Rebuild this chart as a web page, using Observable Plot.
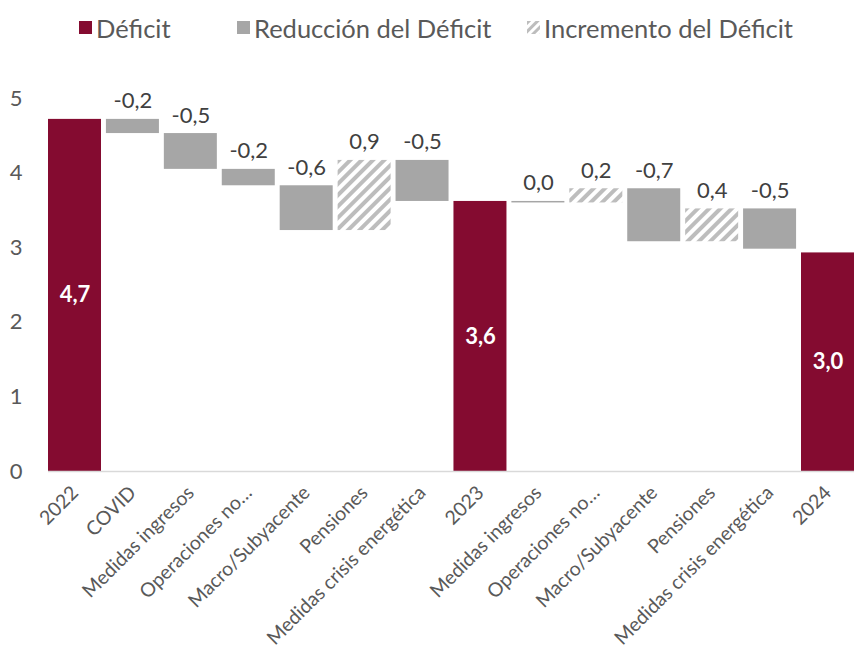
<!DOCTYPE html>
<html><head><meta charset="utf-8">
<script src="https://cdn.jsdelivr.net/npm/d3@7"></script>
<script src="https://cdn.jsdelivr.net/npm/@observablehq/plot@0.6"></script>
<style>
body{margin:0;background:#fff;font-family:Lato,"Open Sans",sans-serif;}
#legend{height:55px;display:flex;align-items:center;padding-left:79px;color:#595959;font-size:25.5px;white-space:nowrap;width:854px;box-sizing:border-box;overflow:hidden;}
.item{display:flex;align-items:center;flex-shrink:0;}
.sw{width:13px;height:13px;margin-right:4px;display:inline-block;flex-shrink:0;}
</style></head><body>
<div id="legend">
 <div class="item" style="width:158px"><span class="sw" style="background:#840B30"></span>Déficit</div>
 <div class="item" style="width:290px"><span class="sw" style="background:#A6A6A6"></span>Reducción del Déficit</div>
 <div class="item"><svg class="sw" width="13" height="13" viewBox="0 0 13 13"><defs><pattern id="hatchL" patternUnits="userSpaceOnUse" width="6" height="6" patternTransform="rotate(45)"><rect width="6" height="6" fill="#fff"/><rect width="3" height="6" fill="#BDBDBD"/></pattern></defs><rect width="13" height="13" fill="url(#hatchL)"/></svg>Incremento del Déficit</div>
</div>
<div id="chart"></div>
<script>
const categories = ["2022","COVID","Medidas ingresos","Operaciones no…","Macro/Subyacente","Pensiones","Medidas crisis energética","2023","Medidas ingresos","Operaciones no…","Macro/Subyacente","Pensiones","Medidas crisis energética","2024"];
const kinds = ["total","change","change","change","change","change","change","total","change","change","change","change","change","total"];
const values = [4.72,-0.19,-0.48,-0.22,-0.60,0.94,-0.55,3.62,-0.02,0.19,-0.71,0.44,-0.54,2.93];
const labels = ["4,7","-0,2","-0,5","-0,2","-0,6","0,9","-0,5","3,6","0,0","0,2","-0,7","0,4","-0,5","3,0"];
const yTicks = [0,1,2,3,4,5];

let cum = 0;
const rows = categories.map((c,i) => {
  const v = values[i];
  let y1, y2, type;
  if (kinds[i] === "total") { y1 = 0; y2 = v; cum = v; type = "Déficit"; }
  else { y1 = cum; y2 = cum + v; cum = y2; type = v < 0 ? "Reducción" : "Incremento"; }
  return {i, cat: c, y1, y2, type, label: labels[i]};
});

const svg = Plot.plot({
  width: 854, height: 596,
  marginTop: 43, marginBottom: 180, marginLeft: 48, marginRight: 0,
  style: {fontFamily: 'Lato, "Open Sans", sans-serif', fontSize: "20px", color: "#595959", background: "#fff"},
  x: {type: "band", domain: d3.range(categories.length), paddingInner: 0.085, paddingOuter: 0, round: false},
  y: {domain: [0, 5]},
  marks: [
    Plot.axisY({ticks: yTicks, tickFormat: "d", tickSize: 0, tickPadding: 26, fontSize: 22, fill: "#595959", label: null}),
    Plot.axisX({tickFormat: i => categories[i], tickRotate: -45, tickSize: 0, tickPadding: 18, fontSize: 19.5, fill: "#595959", label: null}),
    Plot.barY(rows.filter(d => d.type === "Déficit"), {x: "i", y1: "y1", y2: "y2", fill: "#840B30"}),
    Plot.barY(rows.filter(d => d.type === "Reducción"), {x: "i", y1: "y1", y2: "y2", fill: "#A6A6A6"}),
    Plot.barY(rows.filter(d => d.type === "Incremento"), {x: "i", y1: "y1", y2: "y2", fill: "url(#hatch)"}),
    Plot.ruleY([0], {stroke: "#D9D9D9", strokeWidth: 1.5}),
    Plot.text(rows.filter(d => d.type !== "Déficit"), {x: "i", y: d => Math.max(d.y1, d.y2), text: "label", dy: -18, fontSize: 22, fill: "#404040"}),
    Plot.text(rows.filter(d => d.type === "Déficit"), {x: "i", y: d => d.y2 / 2, text: "label", fontSize: 22, fontWeight: "bold", fill: "#fff"})
  ]
});

const defs = d3.select(svg).insert("defs", ":first-child");
const p = defs.append("pattern").attr("id", "hatch").attr("patternUnits", "userSpaceOnUse")
  .attr("width", 8).attr("height", 8).attr("patternTransform", "rotate(45)");
p.append("rect").attr("width", 8).attr("height", 8).attr("fill", "#fff");
p.append("rect").attr("width", 4).attr("height", 8).attr("fill", "#BDBDBD");

document.getElementById("chart").appendChild(svg);
</script>
</body></html>
